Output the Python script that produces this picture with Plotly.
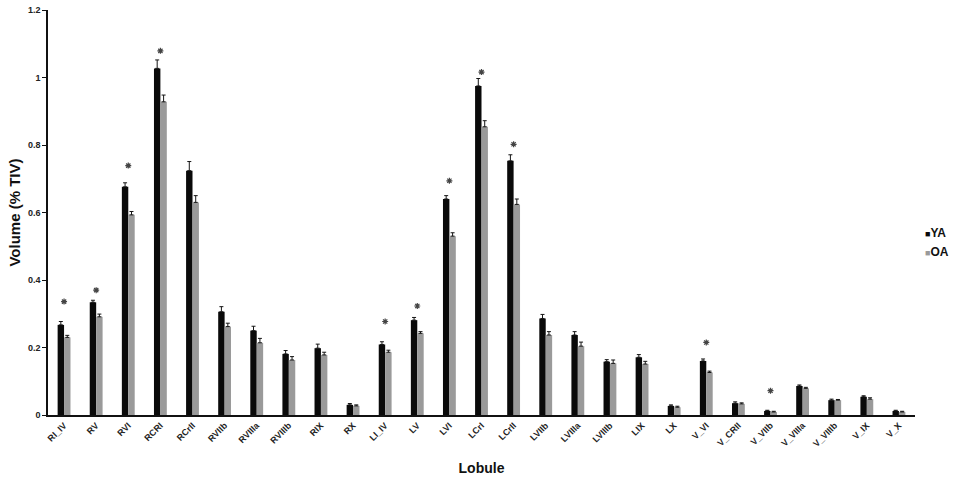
import plotly.graph_objects as go

lobules = ["RI_IV", "RV", "RVI", "RCRI", "RCrII", "RVIIb", "RVIIIa", "RVIIIb", "RIX", "RX",
           "LI_IV", "LV", "LVI", "LCrI", "LCrII", "LVIIb", "LVIIIa", "LVIIIb", "LIX", "LX",
           "V_VI", "V_CRII", "V_VIIb", "V_VIIIa", "V_VIIIb", "V_IX", "V_X"]

ya = [0.267, 0.334, 0.676, 1.027, 0.724, 0.306, 0.250, 0.181, 0.198, 0.030,
      0.209, 0.281, 0.640, 0.975, 0.753, 0.286, 0.237, 0.158, 0.171, 0.027,
      0.160, 0.035, 0.012, 0.086, 0.044, 0.054, 0.012]
oa = [0.230, 0.291, 0.593, 0.928, 0.630, 0.262, 0.214, 0.163, 0.178, 0.027,
      0.186, 0.242, 0.530, 0.854, 0.624, 0.237, 0.204, 0.153, 0.151, 0.023,
      0.126, 0.033, 0.009, 0.079, 0.044, 0.047, 0.009]

ya_err = [0.010, 0.006, 0.012, 0.025, 0.027, 0.015, 0.013, 0.010, 0.012, 0.004,
          0.008, 0.008, 0.010, 0.022, 0.018, 0.012, 0.010, 0.006, 0.008, 0.003,
          0.006, 0.004, 0.002, 0.003, 0.003, 0.003, 0.002]
oa_err = [0.006, 0.008, 0.010, 0.020, 0.020, 0.010, 0.013, 0.010, 0.008, 0.003,
          0.006, 0.005, 0.010, 0.018, 0.016, 0.010, 0.012, 0.010, 0.008, 0.003,
          0.004, 0.003, 0.002, 0.003, 0.002, 0.004, 0.002]

star_lobules = ["RI_IV", "RV", "RVI", "RCRI", "LI_IV", "LV", "LVI", "LCrI", "LCrII", "V_VI", "V_VIIb"]
star_y = [0.336, 0.370, 0.739, 1.079, 0.277, 0.323, 0.694, 1.016, 0.802, 0.215, 0.072]

series_names = ["YA", "OA"]
series_colors = ["#0a0a0a", "#9a9a9a"]

FONT = "Liberation Sans, Arial, sans-serif"

layout = go.Layout(
    width=960, height=481,
    margin=dict(l=48, r=45, t=10, b=66, autoexpand=False),
    paper_bgcolor="white", plot_bgcolor="white",
    barmode="group", bargap=0.6, bargroupgap=0,
    font=dict(family=FONT, color="#111111"),
    showlegend=False,
    xaxis=dict(
        type="category", range=[-0.5, len(lobules) - 0.5], autorange=False,
        categoryorder="array", categoryarray=lobules,
        showline=True, linecolor="#111111", linewidth=1.5,
        ticks="", showticklabels=True, tickangle=-45,
        tickfont=dict(size=9, color="#222222", weight="bold"),
        showgrid=False, zeroline=False, automargin=False,
        title=dict(text="<b>Lobule</b>", font=dict(size=14, color="#111111"), standoff=15),
    ),
    yaxis=dict(
        range=[0, 1.2], autorange=False, tickvals=[0, 0.2, 0.4, 0.6, 0.8, 1, 1.2],
        ticktext=["<b>0</b>", "<b>0.2</b>", "<b>0.4</b>", "<b>0.6</b>", "<b>0.8</b>", "<b>1</b>", "<b>1.2</b>"],
        showline=True, linecolor="#111111", linewidth=1.5,
        ticks="outside", ticklen=4, tickcolor="#111111", tickwidth=1,
        tickfont=dict(size=9, color="#222222"),
        showgrid=False, zeroline=False, automargin=False,
        title=dict(text="<b>Volume (% TIV)</b>", font=dict(size=15, color="#111111"), standoff=4),
    ),
)

fig = go.Figure(layout=layout)
for name, vals, errs, col in zip(series_names, [ya, oa], [ya_err, oa_err], series_colors):
    fig.add_trace(go.Bar(
        x=lobules, y=vals, name=name, marker=dict(color=col, line=dict(width=0)),
        error_y=dict(type="data", array=errs, symmetric=False, arrayminus=[0] * len(errs),
                     color="#151515", thickness=1, width=2),
    ))
fig.add_trace(go.Scatter(
    x=star_lobules, y=star_y, mode="markers", showlegend=False, hoverinfo="skip",
    marker=dict(symbol="asterisk-open", size=5, color="#444444", line=dict(width=1.2, color="#444444")),
))

# legend drawn as annotations (tight swatch/text spacing as in the reference)
for i, (name, col) in enumerate(zip(series_names, series_colors)):
    fig.add_annotation(
        xref="paper", yref="paper", x=1.009, y=0.449 - i * 0.047,
        xanchor="left", yanchor="middle", showarrow=False,
        text=f"<span style='color:{col};font-size:9px'>■</span><b>{name}</b>",
        font=dict(size=12, color="#111111", family=FONT),
    )

fig.write_html("out.html")
